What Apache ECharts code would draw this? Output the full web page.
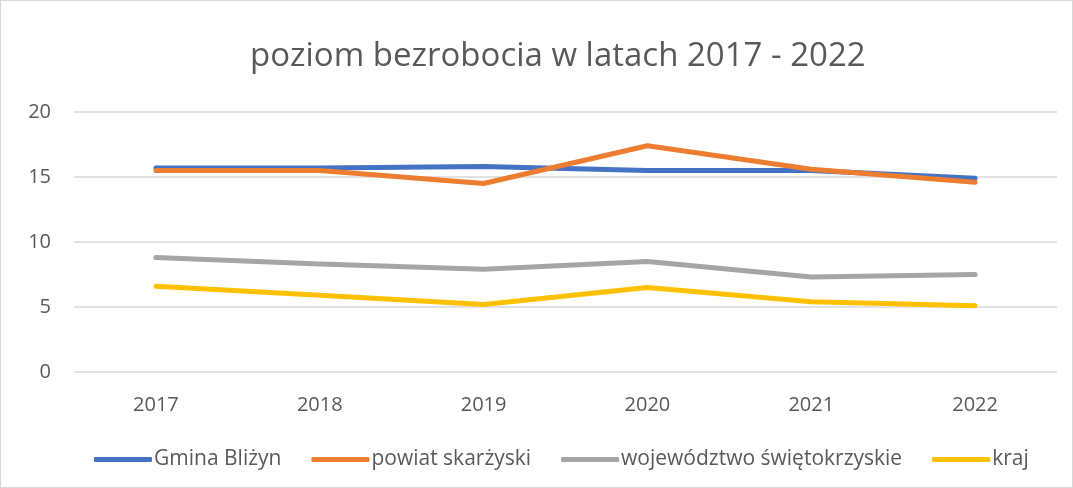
<!DOCTYPE html>
<html>
<head>
<meta charset="utf-8">
<script src="https://cdn.jsdelivr.net/npm/echarts@6/dist/echarts.min.js"></script>
<style>
    html, body { margin: 0; padding: 0; background: #fff; }
    #chart { width: 1073px; height: 488px; box-sizing: border-box; border: 1px solid #d9d9d9; }
</style>
</head>
<body>
<div id="chart"></div>
<script>
/*dane*/
var years = ['2017', '2018', '2019', '2020', '2021', '2022'];
var gminaBlizyn = [15.7, 15.7, 15.8, 15.5, 15.5, 14.9];
var powiatSkarzyski = [15.5, 15.5, 14.5, 17.4, 15.6, 14.6];
var wojewodztwo = [8.8, 8.3, 7.9, 8.5, 7.3, 7.5];
var kraj = [6.6, 5.9, 5.2, 6.5, 5.4, 5.1];

var myChart = echarts.init(document.getElementById('chart'));

function lineSeries(name, data, color) {
    return {
        name: name,
        type: 'line',
        data: data,
        symbol: 'none',
        lineStyle: { width: 5, color: color, cap: 'round', join: 'round' },
        itemStyle: { color: color }
    };
}

var option = {
    animation: false,
    textStyle: { fontFamily: 'Open Sans' },
    title: {
        text: 'poziom bezrobocia w latach 2017 - 2022',
        left: 244,
        top: 34,
        textStyle: { fontSize: 33, fontWeight: 'normal', color: '#595959', fontFamily: 'Open Sans' }
    },
    legend: {
        bottom: 12,
        left: 88,
        itemWidth: 58,
        itemHeight: 5,
        itemGap: 30,
        icon: 'roundRect',
        textStyle: { fontSize: 21, color: '#595959', padding: [0, 0, 0, -3] },
        data: ['Gmina Bliżyn', 'powiat skarżyski', 'województwo świętokrzyskie', 'kraj']
    },
    grid: { left: 73, right: 15, top: 111, bottom: 115 },
    xAxis: {
        type: 'category',
        data: years,
        axisLine: { show: false },
        axisTick: { show: false },
        axisLabel: { fontSize: 20, color: '#595959', margin: 23 }
    },
    yAxis: {
        type: 'value',
        min: 0,
        max: 20,
        interval: 5,
        axisLine: { show: false },
        axisTick: { show: false },
        axisLabel: { fontSize: 20, color: '#595959', margin: 23 },
        splitLine: { lineStyle: { color: '#d9d9d9', width: 1.5 } }
    },
    series: [
        lineSeries('Gmina Bliżyn', gminaBlizyn, '#4472c4'),
        lineSeries('powiat skarżyski', powiatSkarzyski, '#ed7d31'),
        lineSeries('województwo świętokrzyskie', wojewodztwo, '#a5a5a5'),
        lineSeries('kraj', kraj, '#ffc000')
    ]
};
myChart.setOption(option);
</script>
</body>
</html>
